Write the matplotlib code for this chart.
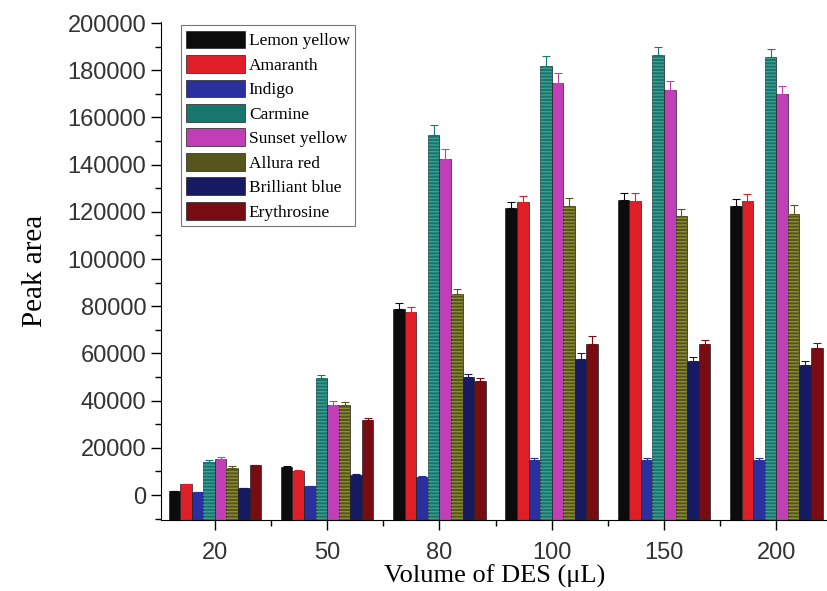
import numpy as np
import matplotlib
matplotlib.use("Agg")
import matplotlib.pyplot as plt
from matplotlib.ticker import MultipleLocator

volumes = ["20", "50", "80", "100", "150", "200"]
dyes = ["Lemon yellow", "Amaranth", "Indigo", "Carmine", "Sunset yellow",
        "Allura red", "Brilliant blue", "Erythrosine"]

lemon_yellow = [1800, 12000, 79000, 121500, 125000, 122500]
amaranth = [4800, 10300, 77500, 124000, 124600, 124500]
indigo = [1100, 3800, 7500, 15000, 15000, 15000]
carmine = [14200, 49500, 152500, 181800, 186500, 185500]
sunset_yellow = [15300, 38200, 142500, 174500, 171800, 169800]
allura_red = [11500, 38000, 85000, 122500, 118300, 119000]
brilliant_blue = [3000, 8600, 50000, 57500, 56800, 55200]
erythrosine = [12800, 32000, 48300, 64000, 63800, 62400]

lemon_err = [0, 500, 2500, 2800, 3000, 2800]
amaranth_err = [0, 500, 2000, 2600, 3200, 3200]
indigo_err = [0, 0, 500, 800, 800, 800]
carmine_err = [800, 1500, 4500, 4200, 3500, 3500]
sunset_err = [800, 1500, 4000, 4500, 3500, 3500]
allura_err = [800, 1500, 2200, 3200, 2800, 4000]
bb_err = [0, 500, 1500, 2500, 1500, 1500]
ery_err = [0, 800, 1200, 3500, 1800, 2200]

series = [lemon_yellow, amaranth, indigo, carmine, sunset_yellow,
          allura_red, brilliant_blue, erythrosine]
errors = [lemon_err, amaranth_err, indigo_err, carmine_err, sunset_err,
          allura_err, bb_err, ery_err]
colors = ["#0c0c0c", "#e01e28", "#2a30a0", "#17776e", "#c13fb6",
          "#55551c", "#151a62", "#780c12"]
hatch_colors = [None, None, None, "#3f9c92", None, "#8f8c34", None, None]

ymin, ymax = -10600, 200500

fig = plt.figure(figsize=(8.28, 5.91), dpi=100)
ax = fig.add_axes([0.1944, 0.12, 0.8056, 0.843])

x = np.arange(len(volumes))
w = 0.103
for i, (vals, errs) in enumerate(zip(series, errors)):
    pos = x + (i - 3.5) * w
    vals = np.array(vals)
    ax.bar(pos, vals - ymin, bottom=ymin, width=w, color=colors[i],
           edgecolor="#222222", linewidth=0.5, label=dyes[i], zorder=2)
    if hatch_colors[i]:
        ax.bar(pos, vals - ymin, bottom=ymin, width=w, fill=False,
               edgecolor=hatch_colors[i], linewidth=0, hatch="-----", zorder=3)
    ax.errorbar(pos, vals, yerr=[np.zeros(len(errs)), errs], fmt="none",
                ecolor=colors[i], elinewidth=0.8, capsize=3, capthick=0.8,
                zorder=4)

ax.set_xlim(-0.48, 5.46)
ax.set_ylim(ymin, ymax)
ax.set_xticks(x)
ax.set_xticklabels(volumes)
ax.set_xticks(x[:-1] + 0.5, minor=True)
ax.yaxis.set_major_locator(MultipleLocator(20000))
ax.yaxis.set_minor_locator(MultipleLocator(10000))
ax.spines["top"].set_visible(False)
ax.spines["right"].set_visible(False)
ax.tick_params(which="major", direction="out", length=7, width=1,
               labelsize=17)
ax.tick_params(axis="x", which="major", pad=9)
ax.tick_params(which="minor", direction="out", length=4, width=1)
for lab in ax.get_xticklabels() + ax.get_yticklabels():
    lab.set_fontfamily("Liberation Sans")
    lab.set_color("#333333")

ax.set_ylabel("Peak area", fontsize=21, family="Liberation Serif", labelpad=14)
ax.set_xlabel("Volume of DES (\u03bcL)", fontsize=19, family="Liberation Serif",
              labelpad=0)

leg = ax.legend(loc="upper left", bbox_to_anchor=(0.025, 1.0),
                prop={"family": "Liberation Serif", "size": 12.5},
                frameon=True, fancybox=False, edgecolor="#555555",
                handlelength=3.4, handleheight=1.2, handletextpad=0.2,
                labelspacing=0.33, borderpad=0.3, borderaxespad=0.2)
leg.get_frame().set_linewidth(0.8)

fig.savefig("out.png", dpi=100)
